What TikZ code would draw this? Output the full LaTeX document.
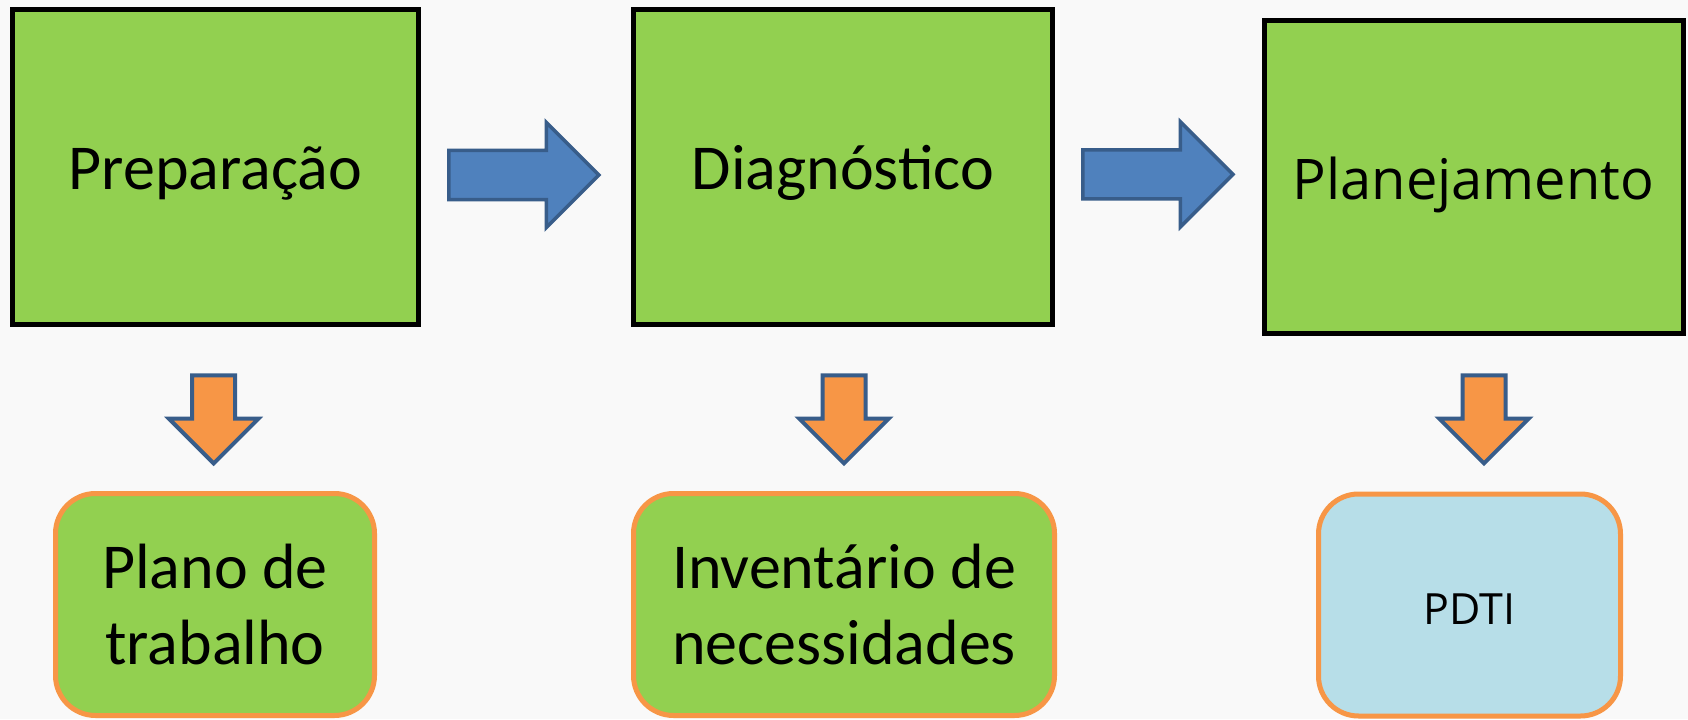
\documentclass[tikz,border=0pt]{standalone}
\usepackage{fontspec}
\setmainfont{Carlito}
\newfontfamily\opensans{Open Sans}
\usepackage{tikz}
\usetikzlibrary{shapes.arrows}
\usetikzlibrary{positioning}
\definecolor{paper}{RGB}{249,249,249}
\definecolor{leafgreen}{RGB}{146,208,80}
\definecolor{arrowblue}{RGB}{79,129,189}
\definecolor{arrowrim}{RGB}{56,93,138}
\definecolor{stageorange}{RGB}{247,150,70}
\definecolor{pdtiblue}{RGB}{183,222,232}

\begin{document}
\begin{tikzpicture}[node distance=103.2pt,semithick]
 \tikzstyle{stage node}=[rectangle,draw=black,line width=2.5pt,fill=leafgreen,minimum width=209.5pt,minimum height=157.5pt,inner sep=0,font=\fontsize{32}{38}\selectfont,text height=29pt,text depth=6.5pt]
 \tikzstyle{result node}=[rectangle,rounded corners=20pt,draw=stageorange,line width=2.5pt,fill=leafgreen,minimum height=111pt,inner sep=0,align=center,font=\fontsize{32}{38}\selectfont]
 \tikzset{
 	next arrow/.style={single arrow,draw=arrowrim,fill=arrowblue,line width=1.75pt,minimum height=75pt,inner xsep=0,inner ysep=11.4pt,single arrow head extend=14pt,anchor=tail},
 	down arrow/.style={single arrow,draw=arrowrim,fill=stageorange,line width=2pt,minimum height=44pt,inner xsep=0,inner ysep=9.75pt,single arrow head extend=11.6pt,rotate=-90,anchor=tail}
 }

 \useasboundingbox (0,0) rectangle (844pt,359.5pt);
 \fill[paper] (0,0) rectangle (844pt,359.5pt);

       \node[stage node,minimum width=202.7pt] (prep) at (107.75pt,276pt) {Preparação};
       \node (a1) [right of=prep,node distance=115.85pt,yshift=-4pt,next arrow] {};
       \node[stage node] (diag) [right of=prep,node distance=313.75pt] {Diagnóstico};
       \node (a2) [right of=diag,node distance=119.1pt,yshift=-3.7pt,next arrow] {};
       \node[stage node,minimum height=156.5pt,font=\opensans\fontsize{28}{34}\selectfont] (plan) [right of=diag,node distance=315.25pt,yshift=-5pt] {Planejamento};

       \node (o1) [below of=prep,xshift=-0.9pt,down arrow] {};
       \node (o2) [below of=diag,xshift=0.5pt,down arrow] {};
       \node (o3) [below of=plan,node distance=98.2pt,xshift=5.25pt,down arrow] {};

       \node[result node,minimum width=159.5pt] (work) [below of=prep,node distance=218.75pt,xshift=-0.25pt] {Plano de\\trabalho};
       \node[result node,minimum width=210.5pt] (needs) [below of=diag,node distance=218.75pt,xshift=0.5pt] {Inventário de\\necessidades};
       \node[result node,minimum width=151pt,fill=pdtiblue,font=\opensans\fontsize{21.5}{26}\selectfont,text height=19pt,text depth=0pt] (pdti) [below of=plan,node distance=214pt,xshift=-2pt] {PDTI};
 \end{tikzpicture}
\end{document}
